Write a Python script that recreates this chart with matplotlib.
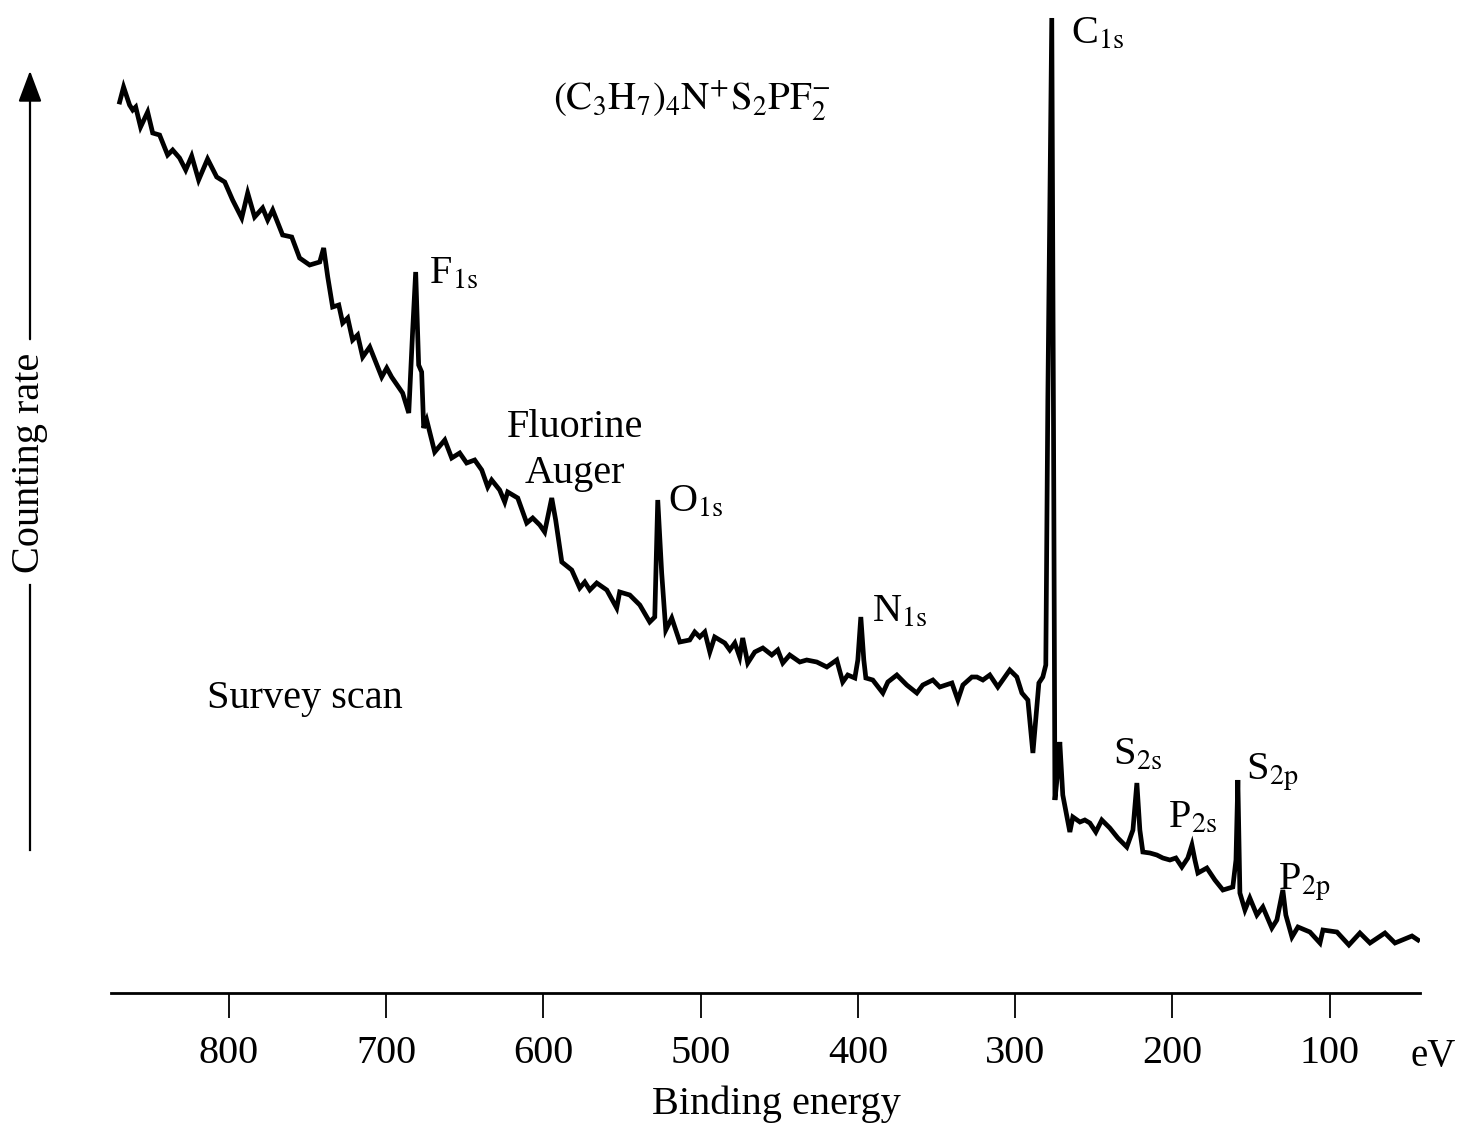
import matplotlib
matplotlib.use("Agg")
import matplotlib.pyplot as plt

plt.rcParams['font.family'] = ['Liberation Serif', 'DejaVu Serif']
plt.rcParams['mathtext.fontset'] = 'stix'

# binding energy (eV) and counting rate (arbitrary units)
energy = [869.3, 866.8, 863.0, 861.0, 859.1, 856.0, 851.5, 848.3, 843.9, 838.8,
          835.6, 831.2, 827.3, 823.5, 819.1, 813.4, 807.6, 802.5, 797.5, 791.7,
          787.9, 783.5, 778.4, 775.2, 772.0, 765.7, 759.9, 754.9, 748.5, 742.1,
          739.6, 737.0, 733.9, 730.0, 727.5, 724.3, 721.2, 718.0, 714.8, 710.3,
          702.7, 699.5, 696.4, 689.4, 685.5, 683.0, 681.1, 679.2, 677.3, 676.0,
          674.1, 669.0, 662.6, 658.2, 653.1, 648.7, 643.6, 639.1, 635.3, 632.8,
          627.7, 624.5, 622.6, 616.2, 610.5, 606.7, 602.2, 599.1, 594.6, 592.1,
          588.2, 581.9, 576.8, 573.6, 570.4, 566.0, 559.6, 553.3, 551.4, 545.0,
          538.6, 532.3, 529.1, 527.2, 524.7, 522.1, 518.3, 513.2, 506.9, 503.7,
          500.5, 497.3, 494.1, 491.0, 484.6, 481.4, 478.2, 475.1, 473.2, 470.0,
          465.5, 460.4, 454.7, 450.9, 447.7, 443.3, 436.9, 432.5, 426.1, 419.7,
          413.4, 409.6, 406.4, 401.9, 400.0, 398.1, 396.2, 394.9, 390.5, 384.1,
          380.9, 375.2, 368.9, 362.5, 358.7, 352.3, 347.9, 340.2, 336.4, 333.2,
          327.5, 324.3, 320.5, 316.1, 311.0, 303.4, 298.9, 295.7, 291.9, 288.7,
          284.9, 282.4, 280.5, 279.2, 276.7, 275.4, 274.7, 272.8, 271.6, 269.7,
          265.2, 263.3, 258.8, 255.7, 252.5, 248.7, 244.9, 239.8, 234.7, 229.0,
          225.1, 222.6, 220.7, 218.8, 214.3, 209.9, 206.1, 201.6, 197.8, 194.0,
          190.2, 187.6, 185.7, 183.8, 178.1, 173.0, 167.9, 161.6, 159.6, 158.4,
          157.1, 153.9, 150.8, 146.3, 142.5, 136.8, 133.6, 131.7, 129.8, 127.9,
          124.0, 120.2, 112.6, 106.2, 104.3, 95.4, 87.8, 80.8, 74.4, 64.9,
          58.5, 47.7, 43.9]
counts = [891, 906, 888, 883, 886, 866, 881, 860, 858, 838,
          843, 835, 823, 837, 813, 834, 816, 811, 793, 775,
          800, 776, 785, 773, 783, 758, 756, 735, 728, 731,
          745, 716, 686, 688, 670, 675, 653, 658, 636, 646,
          616, 625, 616, 600, 580, 663, 721, 628, 621, 565,
          573, 541, 553, 535, 540, 530, 533, 523, 506, 513,
          503, 491, 501, 495, 470, 475, 468, 461, 495, 473,
          431, 423, 405, 411, 403, 410, 403, 385, 401, 398,
          388, 371, 376, 493, 420, 363, 375, 351, 353, 361,
          356, 361, 341, 356, 350, 343, 350, 336, 355, 330,
          341, 345, 338, 343, 330, 338, 331, 333, 331, 326,
          333, 311, 318, 315, 333, 376, 333, 315, 313, 300,
          311, 318, 308, 300, 308, 313, 306, 310, 293, 308,
          316, 316, 313, 318, 306, 323, 316, 300, 293, 240,
          310, 316, 328, 593, 975, 493, 193, 223, 251, 198,
          161, 176, 171, 173, 170, 161, 173, 165, 155, 146,
          163, 210, 163, 141, 140, 138, 135, 133, 135, 126,
          135, 148, 133, 120, 125, 113, 103, 106, 133, 213,
          100, 83, 95, 78, 86, 65, 73, 88, 103, 78,
          56, 66, 61, 50, 63, 61, 48, 60, 50, 60,
          50, 57, 53]

tick_values = [800, 700, 600, 500, 400, 300, 200, 100]

W, H = 1460, 1128
fig = plt.figure(figsize=(W / 100, H / 100), dpi=100)
ax = fig.add_axes([111 / W, 1 - 993 / H, (1420 - 111) / W, 993 / H])

ax.plot(energy, counts, color='black', lw=3.4, solid_joinstyle='miter')
ax.set_xlim(874.8, 42.6)
ax.set_ylim(0, 993)

for s in ['top', 'right', 'left']:
    ax.spines[s].set_visible(False)
ax.spines['bottom'].set_linewidth(2.0)
ax.set_yticks([])
ax.set_xticks(tick_values)
ax.set_xticklabels([str(v) for v in tick_values])
ax.tick_params(axis='x', direction='out', length=18, width=1.3, pad=12, labelsize=29)


def ftext(x, y, s, **kw):
    # place text using reference pixel positions
    fig.text(x / W, 1 - y / H, s, fontsize=kw.pop('fontsize', 29), **kw)


ftext(1456, 1066, 'eV', ha='right', va='baseline', fontsize=28)
ftext(776, 1114, 'Binding energy', ha='center', va='baseline')
ftext(30, 463, 'Counting rate', rotation=90, ha='center', va='center')

# arrow along the left side
fig.add_artist(matplotlib.patches.FancyArrowPatch(
    (30 / W, 1 - 342 / H), (30 / W, 1 - 68 / H), transform=fig.transFigure,
    arrowstyle='-|>,head_length=1.2,head_width=0.45', mutation_scale=16,
    color='black', lw=1.6))
fig.add_artist(matplotlib.lines.Line2D([30 / W, 30 / W], [1 - 585 / H, 1 - 850 / H],
                                       transform=fig.transFigure, color='black', lw=1.6))

ftext(553, 110, r'$\mathrm{(C_3H_7)_4N^{+}S_2PF_2^{-}}$', ha='left', va='baseline', fontsize=28)
ftext(429, 284, r'F$_{\mathrm{1s}}$', ha='left', va='baseline')
ftext(575, 437, 'Fluorine', ha='center', va='baseline')
ftext(575, 483, 'Auger', ha='center', va='baseline')
ftext(668, 512, r'O$_{\mathrm{1s}}$', ha='left', va='baseline')
ftext(872, 622, r'N$_{\mathrm{1s}}$', ha='left', va='baseline')
ftext(1071, 44, r'C$_{\mathrm{1s}}$', ha='left', va='baseline')
ftext(1113, 765, r'S$_{\mathrm{2s}}$', ha='left', va='baseline')
ftext(1168, 828, r'P$_{\mathrm{2s}}$', ha='left', va='baseline')
ftext(1246, 780, r'S$_{\mathrm{2p}}$', ha='left', va='baseline')
ftext(1278, 890, r'P$_{\mathrm{2p}}$', ha='left', va='baseline')
ftext(207, 708, 'Survey scan', ha='left', va='baseline')

fig.savefig('out.png', dpi=100)
